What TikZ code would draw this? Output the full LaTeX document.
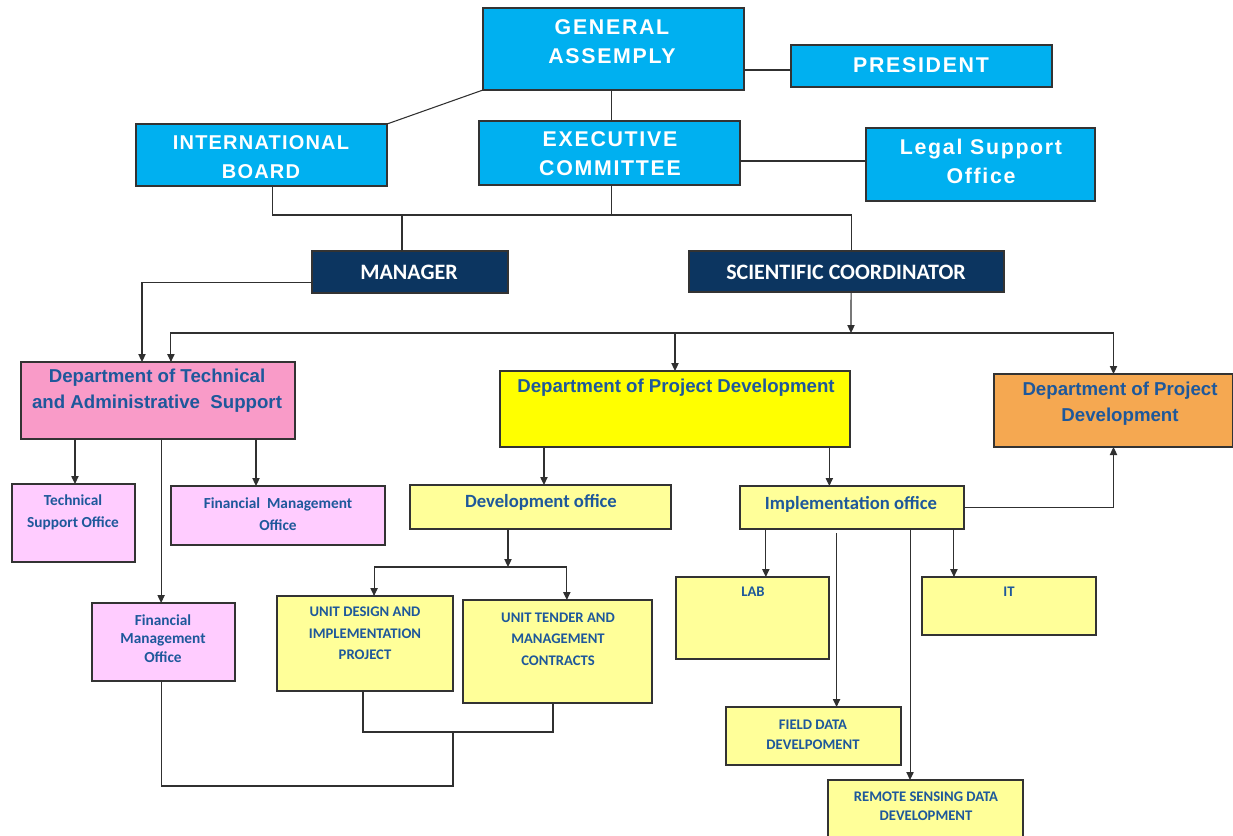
\documentclass[tikz,border=0pt]{standalone}
\usepackage{fontspec}
\setmainfont{Liberation Sans}
\newfontfamily\arialsp{Liberation Sans}[LetterSpace=6]
\newfontfamily\arialspw{Liberation Sans}[LetterSpace=8]
\newfontfamily\arialn{Liberation Sans}
\newfontfamily\calb{Carlito}
\usetikzlibrary{arrows.meta,calc}
\definecolor{cyanb}{HTML}{00B0F0}
\definecolor{navy}{HTML}{0C3560}
\definecolor{pinkd}{HTML}{F99BC8}
\definecolor{yell}{HTML}{FFFF00}
\definecolor{orng}{HTML}{F5A851}
\definecolor{lpink}{HTML}{FFCCFF}
\definecolor{lyel}{HTML}{FFFF99}
\definecolor{tblue}{RGB}{30,88,155}
\definecolor{bord}{HTML}{333333}
\definecolor{lncol}{HTML}{303030}
\newcommand\mkbox[6]{\node[bx,#6, minimum width={(#4-#2)*0.75pt}, minimum height={(#5-#3)*0.75pt}] (#1) at ({(#2+#4)/2},{(#3+#5)/2}) {};}
\begin{document}
\begin{tikzpicture}[x=0.75pt,y=-0.75pt,
  bx/.style={draw=bord, line width=0.8pt, inner sep=0pt, outer sep=0pt},
  conn/.style={draw=lncol, line width=0.8pt},
  conna/.style={conn, -{Triangle[length=6pt,width=5.5pt]}},
  toptxt/.style={text=white, font=\arialspw\bfseries\fontsize{16}{21.75}\selectfont, align=center, inner sep=0pt},
  toptxtn/.style={text=white, font=\arialsp\bfseries\fontsize{15}{21.75}\selectfont, align=center, inner sep=0pt},
  bosstxt/.style={text=white, font=\calb\bfseries\fontsize{16.5}{20}\selectfont, align=center, inner sep=0pt},
  depttxt/.style={text=tblue, font=\arialn\bfseries\fontsize{14}{19.5}\selectfont, align=center, inner sep=0pt},
  offtxt/.style={text=tblue, font=\calb\bfseries\fontsize{14}{18}\selectfont, align=center, inner sep=0pt},
  smalltxt/.style={text=tblue, font=\calb\bfseries\fontsize{11.5}{16.5}\selectfont, align=center, inner sep=0pt},
  unittxt/.style={text=tblue, font=\calb\bfseries\fontsize{11}{16}\selectfont, align=center, inner sep=0pt}]
\useasboundingbox (0,0) rectangle (1233,836);
% boxes
\mkbox{ga}{483}{8}{744}{90}{fill=cyanb}
\mkbox{pres}{791}{45}{1052}{87}{fill=cyanb}
\mkbox{ib}{136}{124}{387}{186}{fill=cyanb}
\mkbox{ec}{479}{121}{740}{185}{fill=cyanb}
\mkbox{legal}{866}{128}{1095}{201}{fill=cyanb}
\mkbox{mgr}{312}{251}{508}{293}{fill=navy}
\mkbox{sc}{689}{251}{1004}{292}{fill=navy}
\mkbox{dt}{21}{362}{295}{439}{fill=pinkd}
\mkbox{yd}{500}{371}{850}{447}{fill=yell}
\mkbox{og}{994}{374}{1233}{447}{fill=orng}
\mkbox{tso}{12}{484}{135}{562}{fill=lpink}
\mkbox{fmoa}{171}{486}{385}{545}{fill=lpink}
\mkbox{fmob}{92}{603}{235}{681}{fill=lpink}
\mkbox{dev}{410}{485}{671}{529}{fill=lyel}
\mkbox{impl}{740}{486}{964}{529}{fill=lyel}
\mkbox{udip}{277}{596}{453}{691}{fill=lyel}
\mkbox{utmc}{463}{600}{652}{703}{fill=lyel}
\mkbox{lab}{676}{577}{829}{659}{fill=lyel}
\mkbox{it}{922}{577}{1096}{635}{fill=lyel}
\mkbox{field}{726}{707}{901}{765}{fill=lyel}
\mkbox{rsd}{828}{780}{1023}{842}{fill=lyel}
% texts
\node[toptxt] (ga-t) at (612,41.5) {GENERAL\\ASSEMPLY};
\node[toptxt] (pres-t) at (921,65) {PRESIDENT};
\node[toptxtn] (ib-t) at (261,157.5) {INTERNATIONAL\\BOARD};
\node[toptxt] (ec-t) at (610,154) {EXECUTIVE\\COMMITTEE};
\node[toptxt] (legal-t) at (981,161.5) {Legal Support\\Office};
\node[bosstxt] (mgr-t) at (409,272) {MANAGER};
\node[bosstxt] (sc-t) at (846,272) {SCIENTIFIC COORDINATOR};
\node[depttxt] (dt-t) at (157,391) {Department of Technical\\and Administrative~ Support};
\node[depttxt] (yd-t) at (676,388) {Department of Project Development};
\node[depttxt] (og-t) at (1120,404) {Department of Project\\Development};
\node[smalltxt] (tso-t) at (73,512) {Technical\\Support Office};
\node[smalltxt] (fmoa-t) at (278,514.5) {Financial~ Management\\Office};
\node[smalltxt, font=\calb\bfseries\fontsize{11.5}{14}\selectfont] (fmob-t) at (163,638.5) {Financial\\Management\\Office};
\node[offtxt] (dev-t) at (541,502) {Development office};
\node[offtxt] (impl-t) at (851,504) {Implementation office};
\node[unittxt] (udip-t) at (365,633.5) {UNIT DESIGN AND\\IMPLEMENTATION\\PROJECT};
\node[unittxt] (utmc-t) at (558,639) {UNIT TENDER AND\\MANAGEMENT\\CONTRACTS};
\node[unittxt] (lab-t) at (753,592) {LAB};
\node[unittxt] (it-t) at (1009,592) {IT};
\node[unittxt, font=\calb\bfseries\fontsize{11}{15}\selectfont] (field-t) at (813,735) {FIELD DATA\\DEVELPOMENT};
\node[unittxt, font=\calb\bfseries\fontsize{11}{14.3}\selectfont] (rsd-t) at (926,806.5) {REMOTE SENSING DATA\\DEVELOPMENT};
% helper coordinates
\coordinate (busA) at (612,215);
\coordinate (busB) at (851,333);
\coordinate (j3) at (508,567);
\coordinate (jb) at (453,786);
\coordinate (ju) at (453,732);
% connectors: top
\draw[conn] (ga.south west) -- (ib.north east);
\draw[conn] ([yshift=-3pt]pres.west) -- ([yshift=-3pt]pres.west -| ga.east);
\draw[conn] ([xshift=-1.2pt]ga.south) -- ([xshift=-1.2pt]ga.south |- ec.north);
\draw[conn] ([yshift=-6pt]ec.east) -- ([yshift=-6pt]ec.east -| legal.west);
\draw[conn] ([xshift=8pt]ib.south) |- ([xshift=3.4pt]busA -| sc.north) -- ([xshift=3.4pt]sc.north);
\draw[conn] ([xshift=1.8pt]ec.south) -- ([xshift=1.8pt]ec.south |- busA);
\draw[conn] ([xshift=-6pt]mgr.north) -- ([xshift=-6pt]mgr.north |- busA);
% manager and coordinator to departments
\draw[conna] ([yshift=-8.2pt]mgr.west) -| ([xshift=-12pt]dt.north);
\draw[conna] ([xshift=3.4pt]sc.south) -- (busB);
\draw[conna] (busB) -| ([xshift=9.7pt]dt.north);
\draw[conna] (busB) -| (og.north);
\draw[conna] (yd.north |- busB) -- (yd.north);
% technical dept children
\draw[conna] ([xshift=1.1pt]tso.north |- dt.south) -- ([xshift=1.1pt]tso.north);
\draw[conna] ([xshift=-16.5pt]fmoa.north |- dt.south) -- ([xshift=-16.5pt]fmoa.north);
\draw[conna] ([xshift=-1.8pt]fmob.north |- dt.south) -- ([xshift=-1.8pt]fmob.north);
% bottom loop
\draw[conn] ([xshift=-1.8pt]fmob.south) |- (jb) -- (ju);
\draw[conn] ([xshift=-1.5pt]udip.south) |- ([xshift=-3.4pt]ju -| utmc.south) -- ([xshift=-3.4pt]utmc.south);
% project dept children
\draw[conna] ([xshift=2.6pt]dev.north |- yd.south) -- ([xshift=2.6pt]dev.north);
\draw[conna] ([xshift=-17pt]impl.north |- yd.south) -- ([xshift=-17pt]impl.north);
\draw[conna] (dev.south -| j3) -- (j3);
\draw[conna] (j3) -| ([xshift=6.8pt]udip.north);
\draw[conna] (j3) -| ([xshift=7pt]utmc.north);
% implementation office
\draw[conna] (impl.east) -| (og.south);
\draw[conna] ([xshift=10pt]lab.north |- impl.south) -- ([xshift=10pt]lab.north);
\draw[conna] ([xshift=-41.3pt]it.north |- impl.south) -- ([xshift=-41.3pt]it.north);
\draw[conna] ([xshift=17.3pt,yshift=-3pt]field.north |- impl.south) -- ([xshift=17.3pt]field.north);
\draw[conna] ([xshift=-11.6pt]rsd.north |- impl.south) -- ([xshift=-11.6pt]rsd.north);
\end{tikzpicture}
\end{document}
